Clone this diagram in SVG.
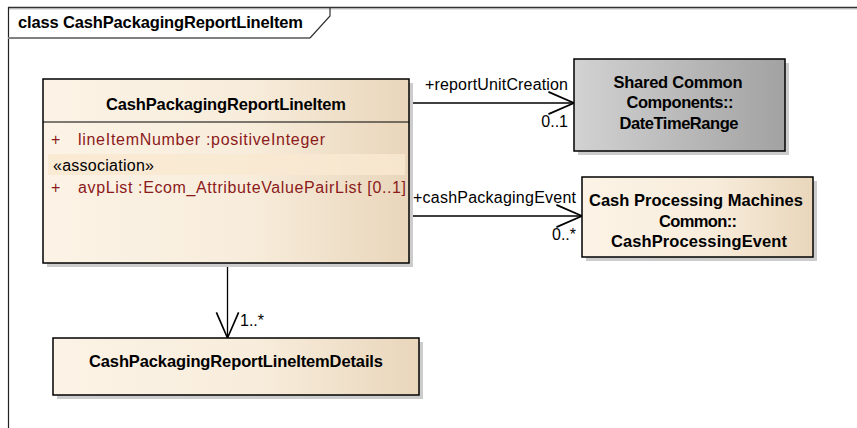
<svg xmlns="http://www.w3.org/2000/svg" width="857" height="428" viewBox="0 0 857 428">
<style>
text{font-family:"Liberation Sans",Arial,sans-serif;}
.nm{font-size:16.5px;font-weight:bold;fill:#000;}
.lb{font-size:16px;fill:#000;}
.at{font-size:16px;fill:#8B1A1A;}
.box{stroke:#000;stroke-width:1.5;}
.sh{fill:#cccccc;}
.cn{fill:none;stroke:#000;stroke-width:1.3;}
</style>
<defs>
<linearGradient id="cream" x1="0" y1="0" x2="1" y2="0">
<stop offset="0" stop-color="#FCF3E6"/>
<stop offset="0.55" stop-color="#F8EDDC"/>
<stop offset="1" stop-color="#E9D6BB"/>
</linearGradient>
<linearGradient id="gray" x1="0" y1="0" x2="1" y2="0">
<stop offset="0" stop-color="#D2D2D2"/>
<stop offset="1" stop-color="#A2A2A2"/>
</linearGradient>
<marker id="open" markerUnits="userSpaceOnUse" markerWidth="30" markerHeight="30" viewBox="-25 -12 27 24" refX="0" refY="0" orient="auto" overflow="visible">
<path d="M-23,-10 L0,0 L-23,10" fill="none" stroke="#000" stroke-width="1.5"/>
</marker>
</defs>
<rect x="0" y="0" width="857" height="428" fill="#fff"/>
<g id="frame">
<line x1="8" y1="9" x2="857" y2="9" stroke="#d8d8d8" stroke-width="1.5"/>
<line x1="8" y1="7.5" x2="857" y2="7.5" stroke="#333" stroke-width="1.5"/>
<line x1="8.5" y1="7" x2="8.5" y2="428" stroke="#222" stroke-width="1.2"/>
<line x1="8" y1="38" x2="310" y2="38" stroke="#808080" stroke-width="2"/>
<path d="M330,7 L330,16 L310,38" fill="none" stroke="#333" stroke-width="1.2"/>
<text class="nm" x="18" y="28" textLength="285" lengthAdjust="spacing">class CashPackagingReportLineItem</text>
</g>
<g id="connectors">
<line class="cn" x1="409" y1="103" x2="574" y2="103" marker-end="url(#open)"/>
<text class="lb" x="425" y="90" textLength="143" lengthAdjust="spacing">+reportUnitCreation</text>
<text class="lb" x="568" y="127" text-anchor="end">0..1</text>
<line class="cn" x1="409" y1="216" x2="582" y2="216" marker-end="url(#open)"/>
<text class="lb" x="413" y="203" textLength="163" lengthAdjust="spacing">+cashPackagingEvent</text>
<text class="lb" x="576" y="240" text-anchor="end">0..*</text>
<line class="cn" x1="227.5" y1="263" x2="227.5" y2="338" marker-end="url(#open)"/>
<text class="lb" x="240" y="326">1..*</text>
</g>
<g id="CashPackagingReportLineItem">
<rect class="sh" x="47" y="83" width="366" height="184"/>
<rect class="box" x="43" y="79" width="366" height="184" fill="url(#cream)"/>
<line x1="43" y1="122" x2="409" y2="122" stroke="#000" stroke-width="1.2"/>
<text class="nm" x="226" y="110" text-anchor="middle" textLength="240" lengthAdjust="spacing">CashPackagingReportLineItem</text>
<text class="at" x="51" y="145">+</text>
<text class="at" x="78" y="145" textLength="247" lengthAdjust="spacing">lineItemNumber  :positiveInteger</text>
<rect x="48" y="154" width="357" height="21" fill="#F9E9D1" opacity="0.85"/>
<text class="lb" x="53" y="171" textLength="101" lengthAdjust="spacing">«association»</text>
<text class="at" x="51" y="193">+</text>
<text class="at" x="78" y="193" textLength="328" lengthAdjust="spacing">avpList  :Ecom_AttributeValuePairList [0..1]</text>
</g>
<g id="DateTimeRange">
<rect class="sh" x="578" y="63" width="211" height="92"/>
<rect class="box" x="574" y="59" width="211" height="92" fill="url(#gray)"/>
<text class="nm" x="678" y="88" text-anchor="middle" textLength="129" lengthAdjust="spacing">Shared Common</text>
<text class="nm" x="680" y="108" text-anchor="middle" textLength="107" lengthAdjust="spacing">Components::</text>
<text class="nm" x="679" y="129" text-anchor="middle" textLength="119" lengthAdjust="spacing">DateTimeRange</text>
</g>
<g id="CashProcessingEvent">
<rect class="sh" x="586" y="181" width="231" height="80"/>
<rect class="box" x="582" y="177" width="231" height="80" fill="url(#cream)"/>
<text class="nm" x="696" y="206" text-anchor="middle" textLength="214" lengthAdjust="spacing">Cash Processing Machines</text>
<text class="nm" x="698" y="227" text-anchor="middle" textLength="78" lengthAdjust="spacing">Common::</text>
<text class="nm" x="699" y="247" text-anchor="middle" textLength="176" lengthAdjust="spacing">CashProcessingEvent</text>
</g>
<g id="CashPackagingReportLineItemDetails">
<rect class="sh" x="57" y="342" width="366" height="57"/>
<rect class="box" x="53" y="338" width="366" height="57" fill="url(#cream)"/>
<text class="nm" x="236" y="367" text-anchor="middle" textLength="294" lengthAdjust="spacing">CashPackagingReportLineItemDetails</text>
</g>
</svg>
